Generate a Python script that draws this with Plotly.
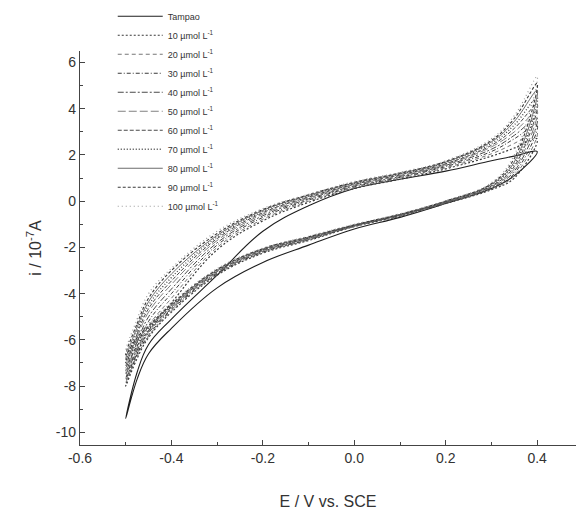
import plotly.graph_objects as go

# Potential grid (V vs. SCE), shared by both scan branches
potential = [-0.5, -0.475, -0.45, -0.4, -0.3, -0.2, -0.1, 0.0, 0.1, 0.2, 0.3, 0.35, 0.4]

series_names = ["Tampao", "10 µmol L<sup>-1</sup>", "20 µmol L<sup>-1</sup>", "30 µmol L<sup>-1</sup>",
                "40 µmol L<sup>-1</sup>", "50 µmol L<sup>-1</sup>", "60 µmol L<sup>-1</sup>",
                "70 µmol L<sup>-1</sup>", "80 µmol L<sup>-1</sup>", "90 µmol L<sup>-1</sup>",
                "100 µmol L<sup>-1</sup>"]

# Forward (anodic) branch current, 10^-7 A, at each potential
forward_tampao = [-9.4, -7.4, -6.2, -5.1, -3.2, -1.3, -0.2, 0.55, 0.95, 1.3, 1.75, 1.95, 2.15]
forward_10 = [-8.0, -6.6, -5.6, -4.4, -2.1, -0.85, -0.05, 0.55, 0.95, 1.4, 1.95, 2.3, 2.7]
forward_20 = [-7.85, -6.45, -5.4, -4.2, -2.0, -0.78, 0.0, 0.58, 1.0, 1.45, 2.05, 2.5, 3.0]
forward_30 = [-7.7, -6.3, -5.2, -4.0, -1.9, -0.7, 0.05, 0.62, 1.03, 1.5, 2.15, 2.7, 3.3]
forward_40 = [-7.5, -6.1, -5.0, -3.8, -1.8, -0.63, 0.1, 0.66, 1.07, 1.55, 2.25, 2.85, 3.6]
forward_50 = [-7.35, -5.9, -4.8, -3.6, -1.7, -0.56, 0.14, 0.7, 1.1, 1.58, 2.35, 3.0, 3.9]
forward_60 = [-7.2, -5.75, -4.65, -3.45, -1.62, -0.5, 0.18, 0.73, 1.14, 1.62, 2.42, 3.15, 4.2]
forward_70 = [-7.0, -5.6, -4.5, -3.3, -1.55, -0.45, 0.22, 0.76, 1.17, 1.66, 2.5, 3.3, 4.5]
forward_80 = [-6.85, -5.45, -4.35, -3.15, -1.48, -0.4, 0.25, 0.79, 1.2, 1.69, 2.57, 3.45, 4.8]
forward_90 = [-6.65, -5.3, -4.2, -3.0, -1.4, -0.36, 0.28, 0.82, 1.22, 1.72, 2.63, 3.58, 5.1]
forward_100 = [-6.5, -5.1, -4.0, -2.9, -1.3, -0.32, 0.3, 0.85, 1.25, 1.75, 2.7, 3.7, 5.4]

# Reverse (cathodic) branch current, 10^-7 A, listed at the same potentials
reverse_tampao = [-9.4, -7.7, -6.6, -5.5, -3.75, -2.65, -1.9, -1.2, -0.7, -0.1, 0.55, 1.1, 2.15]
reverse_10 = [-8.0, -6.8, -5.9, -4.8, -3.2, -2.25, -1.7, -1.1, -0.65, -0.1, 0.5, 1.0, 2.7]
reverse_20 = [-7.85, -6.7, -5.85, -4.75, -3.17, -2.22, -1.68, -1.09, -0.63, -0.08, 0.53, 1.1, 3.0]
reverse_30 = [-7.7, -6.6, -5.8, -4.7, -3.14, -2.2, -1.66, -1.08, -0.62, -0.07, 0.56, 1.2, 3.3]
reverse_40 = [-7.5, -6.45, -5.7, -4.65, -3.1, -2.17, -1.64, -1.07, -0.61, -0.06, 0.6, 1.3, 3.6]
reverse_50 = [-7.35, -6.35, -5.65, -4.6, -3.07, -2.15, -1.62, -1.06, -0.6, -0.04, 0.63, 1.4, 3.9]
reverse_60 = [-7.2, -6.25, -5.6, -4.57, -3.04, -2.12, -1.6, -1.05, -0.59, -0.03, 0.66, 1.5, 4.2]
reverse_70 = [-7.0, -6.1, -5.5, -4.53, -3.01, -2.1, -1.58, -1.04, -0.58, -0.02, 0.7, 1.6, 4.5]
reverse_80 = [-6.85, -6.0, -5.45, -4.5, -2.98, -2.07, -1.56, -1.03, -0.57, 0.0, 0.73, 1.7, 4.8]
reverse_90 = [-6.65, -5.9, -5.4, -4.45, -2.95, -2.05, -1.54, -1.02, -0.56, 0.01, 0.76, 1.85, 5.1]
reverse_100 = [-6.5, -5.8, -5.3, -4.4, -2.92, -2.03, -1.52, -1.0, -0.55, 0.02, 0.8, 2.0, 5.4]

# Axis tick values and labels (hyphen minus as in the reference)
x_tick_values = [-0.6, -0.4, -0.2, 0.0, 0.2, 0.4]
x_tick_labels = ["-0.6", "-0.4", "-0.2", "0.0", "0.2", "0.4"]
y_tick_values = [-10, -8, -6, -4, -2, 0, 2, 4, 6]
y_tick_labels = ["-10", "-8", "-6", "-4", "-2", "0", "2", "4", "6"]

forward_all = [forward_tampao, forward_10, forward_20, forward_30, forward_40, forward_50,
               forward_60, forward_70, forward_80, forward_90, forward_100]
reverse_all = [reverse_tampao, reverse_10, reverse_20, reverse_30, reverse_40, reverse_50,
               reverse_60, reverse_70, reverse_80, reverse_90, reverse_100]

line_dashes = ["solid", "2px,2px", "4px,3px", "4px,2px,1px,2px", "6px,2px,2px,2px", "8px,3px",
               "4px,2px", "1px,2px", "solid", "3px,2px", "1px,3px"]
line_colors = ["#1e1e1e", "#3a3a3a", "#777777", "#3a3a3a", "#4a4a4a", "#808080",
               "#4a4a4a", "#444444", "#5a5a5a", "#3a3a3a", "#999999"]
line_widths = [1.1, 1.2, 1.0, 1.0, 1.0, 1.0, 1.0, 1.3, 0.9, 1.1, 1.2]

fig = go.Figure()
for name, fwd, rev, dash, color, width in zip(series_names, forward_all, reverse_all,
                                              line_dashes, line_colors, line_widths):
    xs = potential + potential[::-1][1:]
    ys = fwd + rev[::-1][1:]
    fig.add_trace(go.Scatter(
        x=xs, y=ys, mode="lines", name=name,
        line=dict(color=color, width=width, dash=dash, shape="spline", smoothing=1.1),
    ))

font_family = "Arial, 'Liberation Sans', sans-serif"
fig.update_layout(
    width=576, height=515,
    margin=dict(l=80, r=0, t=51, b=70),
    paper_bgcolor="white", plot_bgcolor="white",
    font=dict(family=font_family, color="#333333", size=14),
    showlegend=True,
    legend=dict(
        x=0.066, y=1.125, xanchor="left", yanchor="top",
        bgcolor="rgba(0,0,0,0)", font=dict(size=9, color="#333333"),
        itemwidth=45, tracegroupgap=0,
    ),
    xaxis=dict(
        range=[-0.6, 0.485], showgrid=False, zeroline=False, automargin=False,
        showline=True, linecolor="#444444", linewidth=1.2,
        ticks="inside", ticklen=5, tickcolor="#444444", tickwidth=1,
        tickmode="array", tickvals=x_tick_values, ticktext=x_tick_labels,
        minor=dict(tick0=-0.5, dtick=0.2, ticks="inside", ticklen=3, tickcolor="#444444", showgrid=False),
        tickfont=dict(size=14, color="#333333"),
        title=dict(text="E / V vs. SCE", font=dict(size=16, color="#333333"), standoff=30),
    ),
    yaxis=dict(
        range=[-10.55, 6.5], showgrid=False, zeroline=False, automargin=False,
        showline=True, linecolor="#444444", linewidth=1.2,
        ticks="inside", ticklen=5, tickcolor="#444444", tickwidth=1,
        tickmode="array", tickvals=y_tick_values, ticktext=y_tick_labels,
        minor=dict(tick0=-9, dtick=2, ticks="inside", ticklen=3, tickcolor="#444444", showgrid=False),
        tickfont=dict(size=14, color="#333333"),
        title=dict(text="i / 10<sup>-7</sup>A", font=dict(size=16, color="#333333"), standoff=10),
    ),
)

# Remove the default 8px page margin so the figure sits at the window's top-left corner
fig.write_html(
    "out.html",
    config={"displayModeBar": False},
    post_script="document.body.style.margin='0';document.body.style.overflow='hidden';",
)
